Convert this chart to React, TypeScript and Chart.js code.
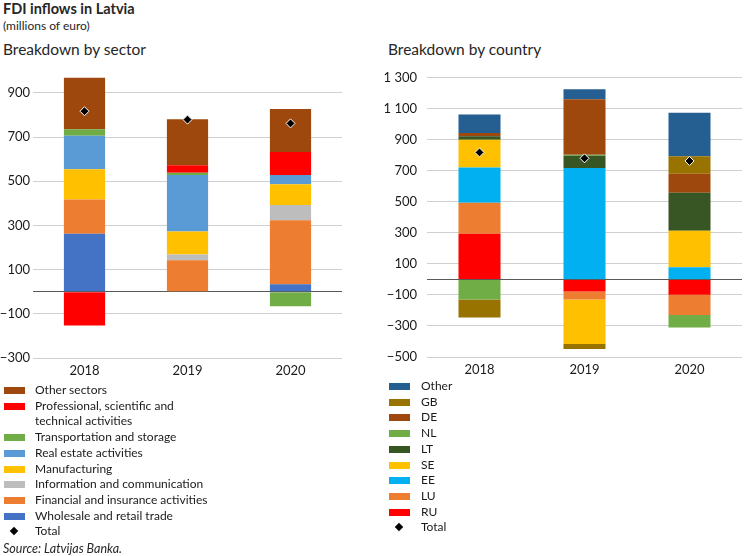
import React, { useEffect, useRef } from "react";
import { Chart, registerables } from "chart.js";

Chart.register(...registerables);

const years = ["2018", "2019", "2020"];

// Breakdown by sector (millions of euro)
const wholesale = [262, 0, 34];
const financial = [155, 142, 289];
const information = [0, 26, 70];
const manufacturing = [137, 105, 94];
const realEstate = [152, 255, 41];
const transport = [29, 10, -66];
const professional = [-153, 34, 105];
const otherSectors = [234, 209, 194];
const sectorTotal = [817, 779, 762];
const sectorTicks = [-300, -100, 0, 100, 300, 500, 700, 900];

// Breakdown by country (millions of euro)
const ru = [295, -78, -99];
const lu = [199, -51, -131];
const ee = [228, 718, 78];
const se = [179, -287, 236];
const lt = [22, 80, 245];
const nl = [-129, 6, -80];
const de = [21, 357, 122];
const gb = [-116, -32, 114];
const otherCountries = [120, 65, 279];
const countryTotal = [819, 781, 764];
const countryTicks = [-500, -300, -100, 0, 100, 300, 500, 700, 900, 1100, 1300];

const FONT = "Lato, 'Noto Sans', sans-serif";
const TEXT = "#1a1a1a";

type Series = { label: string; data: number[]; color: string };

const sectorSeries: Series[] = [
  { label: "Wholesale and retail trade", data: wholesale, color: "#4472C4" },
  { label: "Financial and insurance activities", data: financial, color: "#ED7D31" },
  { label: "Information and communication", data: information, color: "#BDBDBD" },
  { label: "Manufacturing", data: manufacturing, color: "#FFC000" },
  { label: "Real estate activities", data: realEstate, color: "#5B9BD5" },
  { label: "Transportation and storage", data: transport, color: "#70AD47" },
  { label: "Professional, scientific and technical activities", data: professional, color: "#FF0000" },
  { label: "Other sectors", data: otherSectors, color: "#9E480E" },
];

const countrySeries: Series[] = [
  { label: "RU", data: ru, color: "#FF0000" },
  { label: "LU", data: lu, color: "#ED7D31" },
  { label: "EE", data: ee, color: "#00B0F0" },
  { label: "SE", data: se, color: "#FFC000" },
  { label: "LT", data: lt, color: "#375623" },
  { label: "NL", data: nl, color: "#70AD47" },
  { label: "DE", data: de, color: "#9E480E" },
  { label: "GB", data: gb, color: "#997300" },
  { label: "Other", data: otherCountries, color: "#255E91" },
];

function fmt(v: number): string {
  if (v === 0) return "";
  const a = Math.abs(v);
  const s = a >= 1000 ? Math.floor(a / 1000) + " " + String(a % 1000).padStart(3, "0") : String(a);
  return (v < 0 ? "\u2212" : "") + s;
}

function makeConfig(
  series: Series[],
  total: number[],
  ticks: number[],
  min: number,
  max: number,
  yWidth: number,
  xHeight: number,
  padTop: number,
  padRight: number,
  tickPad: number
): any {
  return {
    type: "bar",
    data: {
      labels: years,
      datasets: [
        ...series.map((s) => ({
          type: "bar",
          label: s.label,
          data: s.data,
          backgroundColor: s.color,
          borderWidth: 0,
          stack: "s",
          barPercentage: 0.4,
          categoryPercentage: 1,
          order: 2,
        })),
        {
          type: "line",
          label: "Total",
          data: total,
          showLine: false,
          stack: "total",
          pointStyle: "rectRot",
          pointRadius: 4.5,
          pointBackgroundColor: "#000",
          pointBorderColor: "#ffffff",
          pointBorderWidth: 1,
          order: 1,
        },
      ],
    },
    options: {
      responsive: false,
      animation: false,
      events: [],
      layout: { padding: { top: padTop, right: padRight, left: 0, bottom: 0 } },
      plugins: { legend: { display: false }, tooltip: { enabled: false } },
      scales: {
        x: {
          stacked: true,
          grid: { display: false, drawTicks: false },
          border: { display: false },
          ticks: { color: TEXT, font: { family: FONT, size: 13 }, padding: 5 },
          afterFit: (s: any) => {
            s.height = xHeight;
          },
        },
        y: {
          stacked: true,
          min,
          max,
          afterBuildTicks: (s: any) => {
            s.ticks = ticks.map((v) => ({ value: v }));
          },
          afterFit: (s: any) => {
            s.width = yWidth;
          },
          grid: {
            drawTicks: false,
            color: (c: any) => (c.tick && c.tick.value === 0 ? "#595959" : "#D0D0D0"),
            lineWidth: 1,
          },
          border: { display: false },
          ticks: {
            color: TEXT,
            font: { family: FONT, size: 13 },
            padding: tickPad,
            callback: (v: any) => fmt(Number(v)),
          },
        },
      },
    },
  };
}

function ChartCanvas(props: { config: any; left: number; top: number; width: number; height: number }) {
  const ref = useRef<HTMLCanvasElement | null>(null);
  useEffect(() => {
    if (!ref.current) return;
    const chart = new Chart(ref.current, props.config);
    return () => chart.destroy();
  }, []);
  return (
    <canvas
      ref={ref}
      width={props.width}
      height={props.height}
      style={{ position: "absolute", left: props.left, top: props.top, width: props.width, height: props.height }}
    />
  );
}

function Legend(props: {
  items: { label: string; color?: string; lines?: string[] }[];
  left: number;
  textLeft: number;
  top: number;
  step: number;
}) {
  let y = props.top;
  const rows: any[] = [];
  props.items.forEach((it, i) => {
    const lines = it.lines || [it.label];
    rows.push(
      <div key={i} style={{ position: "absolute", left: 0, top: y - 8, height: 16 }}>
        {it.color ? (
          <div
            style={{
              position: "absolute",
              left: props.left,
              top: 5,
              width: 21,
              height: 7,
              background: it.color,
            }}
          />
        ) : (
          <div
            style={{
              position: "absolute",
              left: props.left + 7,
              top: 5,
              width: 6,
              height: 6,
              background: "#000",
              transform: "rotate(45deg)",
            }}
          />
        )}
        {lines.map((ln, j) => (
          <div
            key={j}
            style={{
              position: "absolute",
              left: props.textLeft,
              top: j * props.step,
              whiteSpace: "nowrap",
              fontSize: 12,
              lineHeight: "16px",
              color: TEXT,
            }}
          >
            {ln}
          </div>
        ))}
      </div>
    );
    y += props.step * lines.length;
  });
  return <>{rows}</>;
}

export default function App() {
  useEffect(() => {
    document.body.style.margin = "0";
  }, []);

  const sectorCfg = makeConfig(sectorSeries, sectorTotal, sectorTicks, -300, 1000, 33, 32, 8, 33, 3);
  const countryCfg = makeConfig(countrySeries, countryTotal, countryTicks, -500, 1300, 52, 33, 13, 8, 10);

  const sectorLegend = [...sectorSeries]
    .reverse()
    .map((s) => ({
      label: s.label,
      color: s.color,
      lines:
        s.label === "Professional, scientific and technical activities"
          ? ["Professional, scientific and", "technical activities"]
          : undefined,
    }));
  sectorLegend.push({ label: "Total", color: undefined as any, lines: undefined });

  const countryLegend = [...countrySeries].reverse().map((s) => ({ label: s.label, color: s.color }));
  countryLegend.push({ label: "Total", color: undefined as any });

  return (
    <div
      style={{
        position: "absolute",
        left: 0,
        top: 0,
        width: 750,
        height: 556,
        background: "#fff",
        fontFamily: FONT,
        color: TEXT,
        overflow: "hidden",
      }}
    >
      <div style={{ position: "absolute", left: 3, top: 0, fontSize: 14.5, fontWeight: 700, color: "#262626" }}>
        FDI inflows in Latvia
      </div>
      <div style={{ position: "absolute", left: 3, top: 18, fontSize: 12, color: "#262626" }}>
        (millions of euro)
      </div>
      <div style={{ position: "absolute", left: 3, top: 40, fontSize: 15.5, color: "#262626" }}>
        Breakdown by sector
      </div>
      <div style={{ position: "absolute", left: 388, top: 40, fontSize: 15.5, color: "#262626" }}>
        Breakdown by country
      </div>

      <ChartCanvas config={sectorCfg} left={0} top={60} width={375} height={330} />
      <ChartCanvas config={countryCfg} left={375} top={60} width={375} height={330} />

      <Legend items={sectorLegend} left={4} textLeft={35} top={390} step={15.7} />
      <Legend items={countryLegend} left={389} textLeft={421} top={386} step={15.7} />

      <div
        style={{
          position: "absolute",
          left: 3,
          top: 541,
          fontSize: 12.5,
          fontStyle: "italic",
          color: "#262626",
        }}
      >
        Source: Latvijas Banka.
      </div>
    </div>
  );
}
